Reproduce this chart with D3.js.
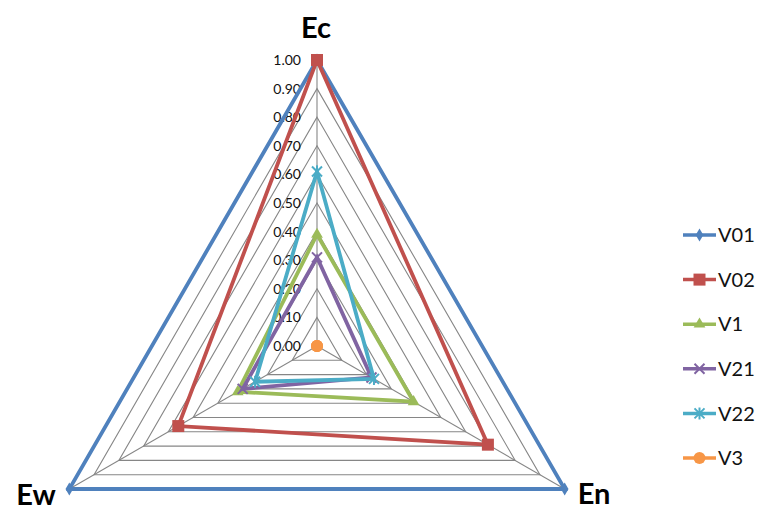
<!DOCTYPE html>
<html>
<head>
<meta charset="utf-8">
<script src="https://cdn.jsdelivr.net/npm/d3@7"></script>
<style>
  body { margin: 0; background: #fff; }
  svg { display: block; font-family: Lato, "Open Sans", sans-serif; }
</style>
</head>
<body>
<div id="chart"></div>
<script>
// axes go clockwise from the top
const axes = ["Ec", "En", "Ew"];
const seriesNames = ["V01", "V02", "V1", "V21", "V22", "V3"];
const V01 = [1.00, 1.00, 1.00];
const V02 = [1.00, 0.69, 0.56];
const V1  = [0.39, 0.39, 0.32];
const V21 = [0.31, 0.22, 0.30];
const V22 = [0.61, 0.23, 0.25];
const V3  = [0.00, 0.00, 0.00];
const tickValues = [0, 0.1, 0.2, 0.3, 0.4, 0.5, 0.6, 0.7, 0.8, 0.9, 1.0];

const colors = ["#4F81BD", "#C0504D", "#9BBB59", "#8064A2", "#4BACC6", "#F79646"];
const markers = ["diamond", "square", "triangle", "x", "star", "circle"];
const allValues = [V01, V02, V1, V21, V22, V3];

const w = 760, h = 510;
const cx = 317, cy = 346, R = 286;

const svg = d3.select("#chart").append("svg")
  .attr("width", w).attr("height", h);

const r = d3.scaleLinear().domain([0, 1]).range([0, R]);
const angle = i => (-90 + i * 120) * Math.PI / 180;
const pt = (v, i) => [cx + r(v) * Math.cos(angle(i)), cy + r(v) * Math.sin(angle(i))];

// grid rings
const grid = svg.append("g");
tickValues.filter(t => t > 0).forEach(t => {
  grid.append("polygon")
    .attr("points", axes.map((a, i) => pt(t, i).join(",")).join(" "))
    .attr("fill", "none")
    .attr("stroke", "#868686")
    .attr("stroke-width", 1.1);
});
axes.forEach((a, i) => {
  const p = pt(1, i);
  grid.append("line")
    .attr("x1", cx).attr("y1", cy).attr("x2", p[0]).attr("y2", p[1])
    .attr("stroke", "#868686").attr("stroke-width", 1.1);
});

// tick labels on the Ec axis
svg.append("g").selectAll("text")
  .data(tickValues)
  .join("text")
  .attr("x", cx - 16)
  .attr("y", d => cy - r(d))
  .attr("dy", "0.35em")
  .attr("text-anchor", "end")
  .attr("font-size", 14)
  .attr("fill", "#111")
  .text(d => d.toFixed(2));

// axis names
const labelPos = [[316, 38, "middle"], [594, 504, "middle"], [36, 505, "middle"]];
axes.forEach((a, i) => {
  svg.append("text")
    .attr("x", labelPos[i][0]).attr("y", labelPos[i][1])
    .attr("text-anchor", labelPos[i][2])
    .attr("font-size", 29).attr("font-weight", "bold")
    .attr("fill", "#000")
    .text(a);
});

function drawMarker(g, type, x, y, color) {
  if (type === "diamond") {
    g.append("path").attr("d", d3.symbol(d3.symbolDiamond, 50)())
      .attr("transform", `translate(${x},${y})`).attr("fill", color);
  } else if (type === "square") {
    g.append("rect").attr("x", x - 6).attr("y", y - 6).attr("width", 12).attr("height", 12)
      .attr("fill", color);
  } else if (type === "triangle") {
    g.append("path").attr("d", d3.symbol(d3.symbolTriangle, 60)())
      .attr("transform", `translate(${x},${y})`).attr("fill", color);
  } else if (type === "x") {
    g.append("path").attr("d", "M-5,-5L5,5M-5,5L5,-5")
      .attr("transform", `translate(${x},${y})`).attr("stroke", color).attr("stroke-width", 2);
  } else if (type === "star") {
    g.append("path").attr("d", "M-5,-5L5,5M-5,5L5,-5M0,-6L0,6")
      .attr("transform", `translate(${x},${y})`).attr("stroke", color).attr("stroke-width", 2);
  } else {
    g.append("circle").attr("cx", x).attr("cy", y).attr("r", 6).attr("fill", color);
  }
}

// series
allValues.forEach((vals, s) => {
  const g = svg.append("g");
  const pts = vals.map((v, i) => pt(v, i));
  g.append("polygon")
    .attr("points", pts.map(p => p.join(",")).join(" "))
    .attr("fill", "none")
    .attr("stroke", colors[s])
    .attr("stroke-width", 3.8)
    .attr("stroke-linejoin", "miter");
  pts.forEach(p => drawMarker(g, markers[s], p[0], p[1], colors[s]));
});

// legend
const lg = svg.append("g");
seriesNames.forEach((name, s) => {
  const y = 235 + s * 44.6;
  lg.append("line").attr("x1", 683).attr("x2", 716).attr("y1", y).attr("y2", y)
    .attr("stroke", colors[s]).attr("stroke-width", 3.5);
  drawMarker(lg, markers[s], 699.5, y, colors[s]);
  lg.append("text").attr("x", 718).attr("y", y).attr("dy", "0.36em")
    .attr("font-size", 20).attr("fill", "#111").text(name);
});
</script>
</body>
</html>
